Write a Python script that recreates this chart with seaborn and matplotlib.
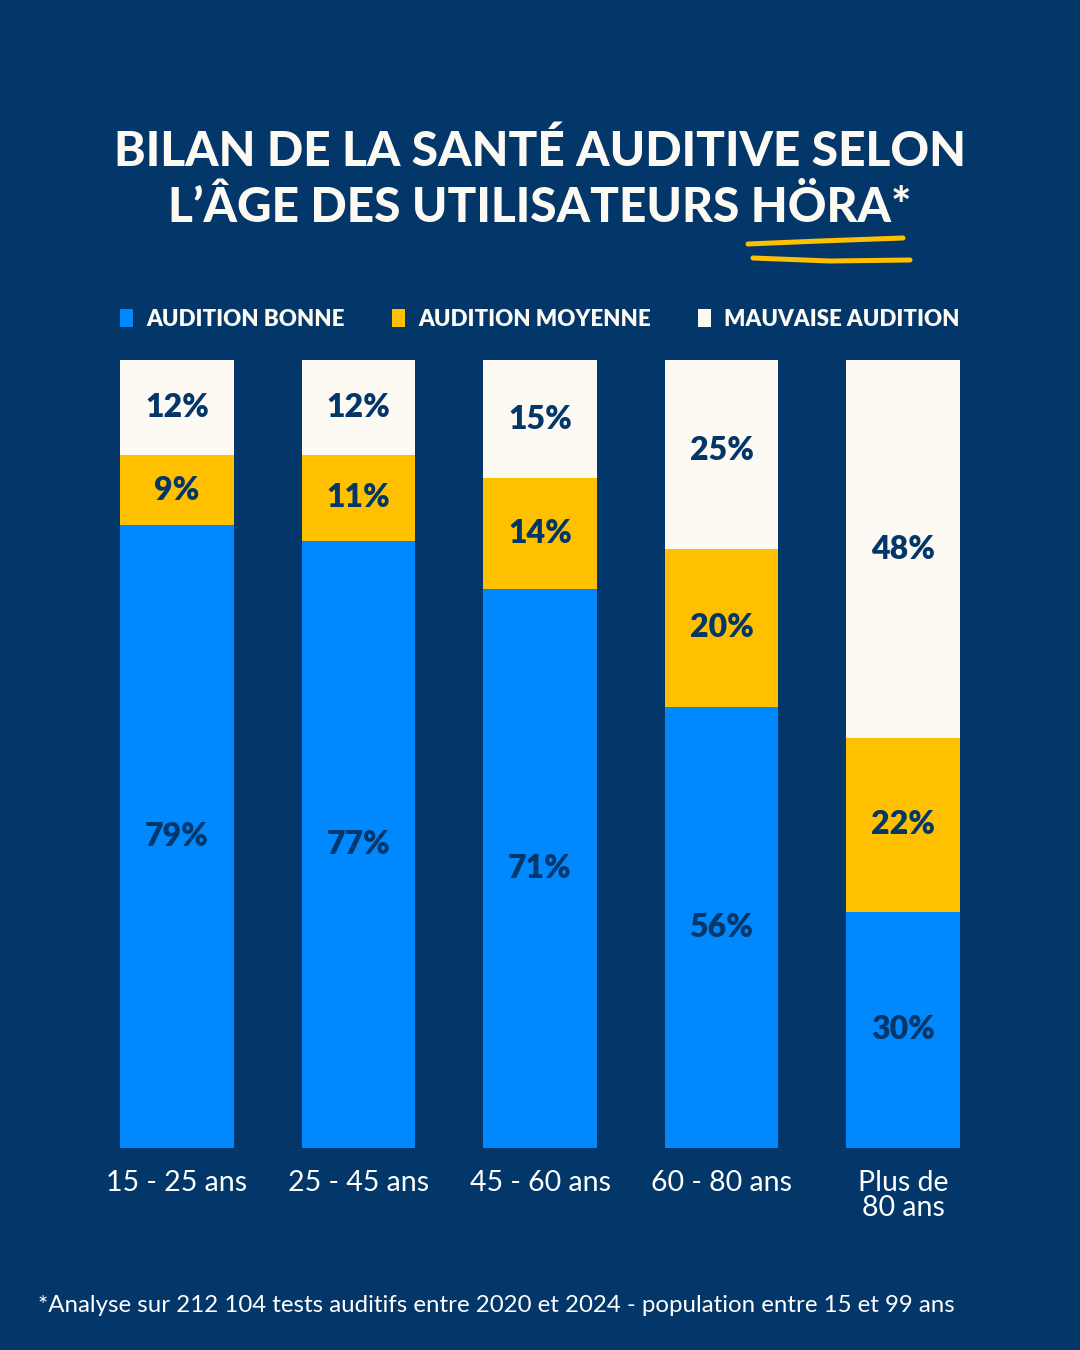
import numpy as np
import pandas as pd
import matplotlib.pyplot as plt
import seaborn as sns
from matplotlib.lines import Line2D
from matplotlib.patches import Patch

# données
groupes = ["15 - 25 ans", "25 - 45 ans", "45 - 60 ans", "60 - 80 ans", "Plus de\n80 ans"]
bonne = [79, 77, 71, 56, 30]
moyenne = [9, 11, 14, 20, 22]
mauvaise = [12, 12, 15, 25, 48]
legende = ["AUDITION BONNE", "AUDITION MOYENNE", "MAUVAISE AUDITION"]

NAVY = "#03376a"
BLUE = "#0088ff"
YELLOW = "#ffc000"
CREAM = "#fdf9f3"

sns.set_theme(style="white")
plt.rcParams['font.family'] = ['Lato', 'DejaVu Sans']

df = pd.DataFrame({"groupe": groupes, "bonne": bonne, "moyenne": moyenne, "mauvaise": mauvaise})
df["cumul_moy"] = df["bonne"] + df["moyenne"]
df["cumul_tot"] = df["cumul_moy"] + df["mauvaise"]

fig = plt.figure(figsize=(10.8, 13.5), dpi=100, facecolor=NAVY)
ax = fig.add_axes([120 / 1080, 1 - 1148 / 1350, 840 / 1080, 788 / 1350])
ax.set_facecolor(NAVY)

# barres empilées : on superpose les cumuls
w = 0.628
sns.barplot(data=df, x="groupe", y="cumul_tot", color=CREAM, width=w, saturation=1,
            errorbar=None, linewidth=0, ax=ax)
sns.barplot(data=df, x="groupe", y="cumul_moy", color=YELLOW, width=w, saturation=1,
            errorbar=None, linewidth=0, ax=ax)
sns.barplot(data=df, x="groupe", y="bonne", color=BLUE, width=w, saturation=1,
            errorbar=None, linewidth=0, ax=ax)

# étiquettes de valeurs
for i, row in df.iterrows():
    centres = [row["bonne"] / 2,
               row["bonne"] + row["moyenne"] / 2,
               row["cumul_moy"] + row["mauvaise"] / 2]
    for val, yc in zip([row["bonne"], row["moyenne"], row["mauvaise"]], centres):
        ax.text(i, yc, f"{val}%", ha="center", va="center", fontsize=23,
                fontweight="heavy", color=NAVY)

ax.set_xlim(-w / 2, len(groupes) - 1 + w / 2)
ax.set_ylim(0, 100)
ax.set_xlabel("")
ax.set_ylabel("")
ax.set_yticks([])
sns.despine(ax=ax, left=True, bottom=True)
ax.tick_params(axis="x", length=0, pad=16, labelsize=20.5, labelcolor="white")
for lab in ax.get_xticklabels():
    lab.set_linespacing(0.95)

# légende
handles = [Patch(facecolor=c, edgecolor="none") for c in [BLUE, YELLOW, CREAM]]
leg = fig.legend(handles, legende, loc="center left", bbox_to_anchor=(120 / 1080, 1 - 319 / 1350),
                 ncol=3, frameon=False, handlelength=0.6, handleheight=0.9,
                 handletextpad=0.6, columnspacing=2.1, borderpad=0, borderaxespad=0,
                 prop={"size": 16, "weight": "heavy"})
for t in leg.get_texts():
    t.set_color(CREAM)

# titre
fig.text(0.5, 1 - 180 / 1350, "BILAN DE LA SANTÉ AUDITIVE SELON\nL’ÂGE DES UTILISATEURS HÖRA*",
         ha="center", va="center", fontsize=34.4, fontweight="black", color=CREAM, linespacing=1.32)

# soulignement jaune
for xs, ys in [([748, 820, 903], [244, 241, 238]), ([753, 830, 910], [258, 261, 260])]:
    fig.add_artist(Line2D([x / 1080 for x in xs], [1 - y / 1350 for y in ys],
                          transform=fig.transFigure, color=YELLOW, lw=3.6,
                          solid_capstyle="round"))

# note de bas de page
fig.text(38 / 1080, 1 - 1306 / 1350,
         "*Analyse sur 212 104 tests auditifs entre 2020 et 2024 - population entre 15 et 99 ans",
         ha="left", va="center", fontsize=17.3, color="white")

fig.savefig("out.png", dpi=100, facecolor=NAVY)
